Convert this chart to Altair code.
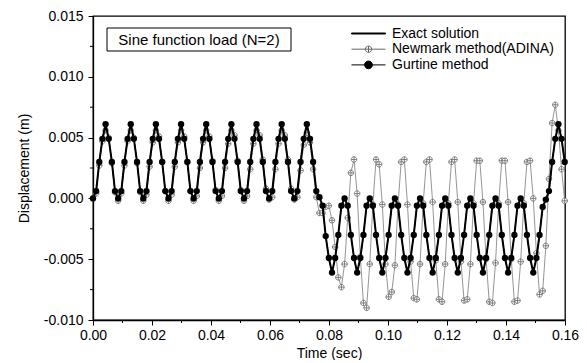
import altair as alt
import pandas as pd

# ---------------- data ----------------
DT = 0.001066  # sampling step of the three series (s)

GURTINE = [
    0.0000, 0.0006, 0.0030, 0.0049, 0.0061, 0.0049, 0.0030, 0.0006,
    0.0000, 0.0006, 0.0030, 0.0049, 0.0061, 0.0049, 0.0030, 0.0006,
    0.0000, 0.0006, 0.0030, 0.0049, 0.0061, 0.0049, 0.0030, 0.0006,
    0.0000, 0.0006, 0.0030, 0.0049, 0.0061, 0.0049, 0.0030, 0.0006,
    0.0000, 0.0006, 0.0030, 0.0049, 0.0061, 0.0049, 0.0030, 0.0006,
    0.0000, 0.0006, 0.0030, 0.0049, 0.0061, 0.0049, 0.0030, 0.0006,
    0.0000, 0.0006, 0.0030, 0.0049, 0.0061, 0.0049, 0.0030, 0.0006,
    0.0000, 0.0006, 0.0030, 0.0049, 0.0061, 0.0049, 0.0030, 0.0006,
    0.0000, 0.0006, 0.0030, 0.0049, 0.0061, 0.0049, 0.0030, 0.0006,
    0.0001, -0.0006, -0.0031, -0.0049, -0.0061, -0.0049, -0.0030, -0.0006,
    0.0000, -0.0006, -0.0030, -0.0049, -0.0061, -0.0049, -0.0030, -0.0006,
    0.0000, -0.0006, -0.0030, -0.0049, -0.0061, -0.0049, -0.0030, -0.0006,
    0.0000, -0.0006, -0.0030, -0.0049, -0.0061, -0.0049, -0.0030, -0.0006,
    0.0000, -0.0006, -0.0030, -0.0049, -0.0061, -0.0049, -0.0030, -0.0006,
    0.0000, -0.0006, -0.0030, -0.0049, -0.0061, -0.0049, -0.0030, -0.0006,
    0.0000, -0.0006, -0.0030, -0.0049, -0.0061, -0.0049, -0.0030, -0.0006,
    0.0000, -0.0006, -0.0030, -0.0049, -0.0061, -0.0049, -0.0030, -0.0006,
    0.0000, -0.0006, -0.0030, -0.0049, -0.0061, -0.0049, -0.0030, -0.0007,
    -0.0001, 0.0006, 0.0030, 0.0049, 0.0061, 0.0049, 0.0030,
]

EXACT = [
    0.0000, 0.0006, 0.0030, 0.0049, 0.0061, 0.0049, 0.0030, 0.0006,
    0.0000, 0.0006, 0.0030, 0.0049, 0.0061, 0.0049, 0.0030, 0.0006,
    0.0000, 0.0006, 0.0030, 0.0049, 0.0061, 0.0049, 0.0030, 0.0006,
    0.0000, 0.0006, 0.0030, 0.0049, 0.0061, 0.0049, 0.0030, 0.0006,
    0.0000, 0.0006, 0.0030, 0.0049, 0.0061, 0.0049, 0.0030, 0.0006,
    0.0000, 0.0006, 0.0030, 0.0049, 0.0061, 0.0049, 0.0030, 0.0006,
    0.0000, 0.0006, 0.0030, 0.0049, 0.0061, 0.0049, 0.0030, 0.0006,
    0.0000, 0.0006, 0.0030, 0.0049, 0.0061, 0.0049, 0.0030, 0.0006,
    0.0000, 0.0006, 0.0030, 0.0049, 0.0061, 0.0049, 0.0030, 0.0006,
    0.0001, -0.0006, -0.0031, -0.0049, -0.0061, -0.0049, -0.0030, -0.0006,
    0.0000, -0.0006, -0.0030, -0.0049, -0.0061, -0.0049, -0.0030, -0.0006,
    0.0000, -0.0006, -0.0030, -0.0049, -0.0061, -0.0049, -0.0030, -0.0006,
    0.0000, -0.0006, -0.0030, -0.0049, -0.0061, -0.0049, -0.0030, -0.0006,
    0.0000, -0.0006, -0.0030, -0.0049, -0.0061, -0.0049, -0.0030, -0.0006,
    0.0000, -0.0006, -0.0030, -0.0049, -0.0061, -0.0049, -0.0030, -0.0006,
    0.0000, -0.0006, -0.0030, -0.0049, -0.0061, -0.0049, -0.0030, -0.0006,
    0.0000, -0.0006, -0.0030, -0.0049, -0.0061, -0.0049, -0.0030, -0.0006,
    0.0000, -0.0006, -0.0030, -0.0049, -0.0061, -0.0049, -0.0030, -0.0007,
    -0.0001, 0.0006, 0.0030, 0.0049, 0.0061, 0.0049, 0.0030,
]

NEWMARK = [
    0.0000, 0.0004, 0.0027, 0.0047, 0.0056, 0.0050, 0.0029, 0.0005,
    -0.0002, 0.0004, 0.0027, 0.0047, 0.0056, 0.0050, 0.0029, 0.0005,
    -0.0002, 0.0003, 0.0026, 0.0046, 0.0056, 0.0051, 0.0030, 0.0006,
    -0.0002, 0.0003, 0.0026, 0.0046, 0.0056, 0.0051, 0.0030, 0.0006,
    -0.0002, 0.0002, 0.0025, 0.0046, 0.0056, 0.0051, 0.0031, 0.0007,
    -0.0002, 0.0002, 0.0025, 0.0045, 0.0056, 0.0052, 0.0031, 0.0007,
    -0.0002, 0.0002, 0.0024, 0.0045, 0.0056, 0.0052, 0.0032, 0.0008,
    -0.0001, 0.0001, 0.0024, 0.0045, 0.0056, 0.0052, 0.0032, 0.0008,
    -0.0001, 0.0001, 0.0023, 0.0044, 0.0054, 0.0046, 0.0024, 0.0001,
    -0.0012, -0.0012, -0.0007, -0.0006, -0.0018, -0.0040, -0.0065, -0.0073,
    -0.0054, -0.0016, 0.0021, 0.0032, 0.0004, -0.0048, -0.0086, -0.0090,
    -0.0054, -0.0005, 0.0032, 0.0028, -0.0005, -0.0054, -0.0081, -0.0077,
    -0.0055, -0.0005, 0.0030, 0.0032, -0.0005, -0.0052, -0.0082, -0.0083,
    -0.0054, -0.0004, 0.0030, 0.0032, -0.0003, -0.0051, -0.0083, -0.0085,
    -0.0054, -0.0004, 0.0030, 0.0032, -0.0003, -0.0052, -0.0084, -0.0083,
    -0.0054, -0.0004, 0.0031, 0.0031, -0.0003, -0.0050, -0.0085, -0.0086,
    -0.0053, -0.0004, 0.0031, 0.0031, -0.0003, -0.0050, -0.0085, -0.0084,
    -0.0052, -0.0004, 0.0030, 0.0031, 0.0000, -0.0045, -0.0079, -0.0076,
    -0.0039, 0.0016, 0.0062, 0.0077, 0.0056, 0.0024, -0.0002,
]

TIME = [round(i * DT, 6) for i in range(len(GURTINE))]

SERIES = ["Exact solution", "Newmark method(ADINA)", "Gurtine method"]
X_MAJOR = [0.00, 0.02, 0.04, 0.06, 0.08, 0.10, 0.12, 0.14, 0.16]
X_MINOR = [0.01, 0.03, 0.05, 0.07, 0.09, 0.11, 0.13, 0.15]
Y_MAJOR = [-0.010, -0.005, 0.000, 0.005, 0.010, 0.015]
Y_MINOR = [-0.0075, -0.0025, 0.0025, 0.0075, 0.0125]
ANNOTATION = ["Sine function load (N=2)"]

# ---------------- styling ----------------
FONT = "Liberation Sans"
W, H = 472, 304
GRAY = "#7a7a7a"

NM_MARK = "M-1,0A1,1,0,1,1,1,0A1,1,0,1,1,-1,0ZM-1,0L1,0M0,-1L0,1"
LEG_EXACT = "M-2.43,-0.07L2.43,-0.07L2.43,0.07L-2.43,0.07Z"
LEG_NM = ("M-2.43,0L2.43,0M-0.45,0A0.45,0.45,0,1,1,0.45,0"
          "A0.45,0.45,0,1,1,-0.45,0ZM0,-0.45L0,0.45")
LEG_G = ("M-2.43,0L2.43,0M-0.55,0A0.55,0.55,0,1,1,0.55,0"
         "A0.55,0.55,0,1,1,-0.55,0Z")

x_enc = alt.X(
    "t:Q",
    scale=alt.Scale(domain=[0, 0.16], nice=False, zero=False),
    axis=alt.Axis(
        title="Time (sec)", values=X_MAJOR,
        labelExpr="replace(format(datum.value, '.2f'), '\u2212', '-')",
        tickSize=5, labelPadding=3, titlePadding=4, labelFlush=False,
    ),
)
y_enc = alt.Y(
    "v:Q",
    scale=alt.Scale(domain=[-0.010, 0.015], nice=False, zero=False),
    axis=alt.Axis(
        title="Displacement (m)", values=Y_MAJOR,
        labelExpr="replace(format(datum.value, '.3f'), '\u2212', '-')",
        tickSize=5, labelPadding=5, titlePadding=12, labelFlush=False,
    ),
)

df_ex = pd.DataFrame({"t": TIME, "v": EXACT})
df_nm = pd.DataFrame({"t": TIME, "v": NEWMARK})
df_g = pd.DataFrame({"t": TIME, "v": GURTINE})

nm_line = alt.Chart(df_nm).mark_line(color=GRAY, strokeWidth=0.8).encode(x=x_enc, y=y_enc)
nm_pts = alt.Chart(df_nm).mark_point(
    shape=NM_MARK, size=30, filled=True, fill="white", stroke="#666666",
    strokeWidth=0.8, opacity=1,
).encode(x=x_enc, y=y_enc)
ex_line = alt.Chart(df_ex).mark_line(color="black", strokeWidth=2).encode(x=x_enc, y=y_enc)
g_line = alt.Chart(df_g).mark_line(color="black", strokeWidth=1).encode(x=x_enc, y=y_enc)
g_pts = alt.Chart(df_g).mark_point(
    shape="circle", size=40, filled=True, color="black", opacity=1,
).encode(x=x_enc, y=y_enc)

x_minor = alt.Chart(pd.DataFrame({"t": X_MINOR})).mark_rule(
    color="black", strokeWidth=1
).encode(x=x_enc, y=alt.value(H), y2=alt.value(H + 3))
y_minor = alt.Chart(pd.DataFrame({"v": Y_MINOR})).mark_rule(
    color="black", strokeWidth=1
).encode(y=y_enc, x=alt.value(-3), x2=alt.value(0))

ann_df = pd.DataFrame({"label": ANNOTATION})
box = alt.Chart(ann_df).mark_rect(fill="white", stroke="black", strokeWidth=1).encode(
    x=alt.value(14), x2=alt.value(198), y=alt.value(12), y2=alt.value(35)
)
txt = alt.Chart(ann_df).mark_text(
    font=FONT, fontSize=15, align="center", baseline="middle", color="black"
).encode(x=alt.value(106), y=alt.value(24), text="label:N")

leg_props = dict(
    orient="none", legendX=268, legendY=10, title=None, symbolSize=196,
    labelOffset=16, labelFontSize=14, labelFont=FONT, labelColor="black",
    labelLimit=400, rowPadding=0.7, padding=0, symbolStrokeWidth=1,
)
leg = alt.Chart(pd.DataFrame({"series": SERIES})).transform_filter("false").mark_point(
    filled=True, size=196, strokeWidth=1, opacity=1
).encode(
    shape=alt.Shape("series:N", scale=alt.Scale(domain=SERIES, range=[LEG_EXACT, LEG_NM, LEG_G]),
                    legend=alt.Legend(**leg_props)),
    fill=alt.Fill("series:N", scale=alt.Scale(domain=SERIES, range=["black", "white", "black"]),
                  legend=alt.Legend(**leg_props)),
    stroke=alt.Stroke("series:N", scale=alt.Scale(domain=SERIES, range=["black", "#666666", "black"]),
                      legend=alt.Legend(**leg_props)),
)

chart = alt.layer(
    nm_line, nm_pts, ex_line, g_line, g_pts, x_minor, y_minor, box, txt, leg
).properties(
    width=W, height=H,
    padding={"left": 85, "top": 8, "right": 14, "bottom": 40},
    autosize=alt.AutoSizeParams(type="none"),
    background="white",
).configure_view(
    stroke="black", strokeWidth=1.3
).configure_axis(
    labelFont=FONT, labelFontSize=14, labelColor="black",
    titleFont=FONT, titleFontSize=14, titleFontWeight="normal", titleColor="black",
    domainColor="black", domainWidth=1.3, tickColor="black", tickWidth=1, grid=False,
)

chart.save("out.html", embed_options={"renderer": "svg", "actions": False})
